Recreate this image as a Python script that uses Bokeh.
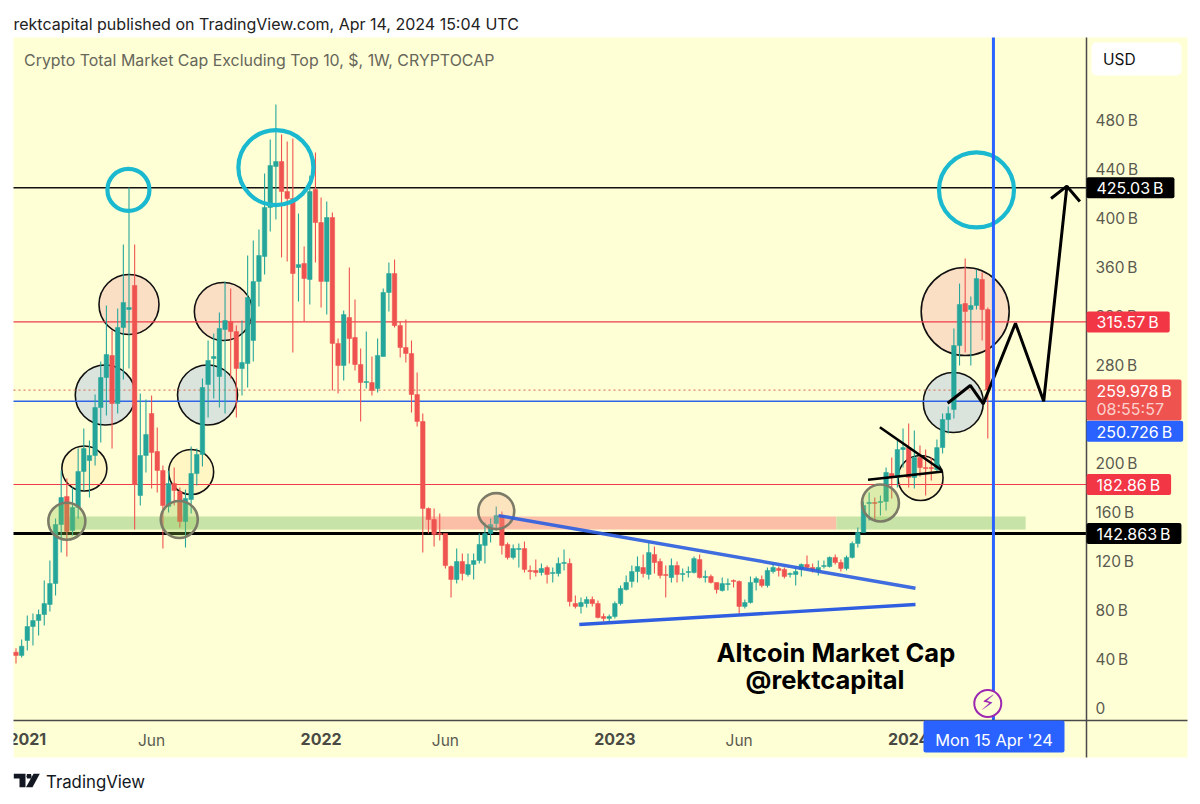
from bokeh.embed import file_html
from bokeh.resources import INLINE
from bokeh.plotting import figure
from bokeh.models import (ColumnDataSource, FixedTicker, LinearAxis, Label, BoxAnnotation,
                          PolyAnnotation, Range1d)

# ---------- weekly candles, values in billions of USD ----------
opens = [46, 43.3, 55.5, 66.9, 71.8, 76.7, 84.9, 102, 150.2, 173.1,
         145.3, 164.1, 193.5, 202.4, 206.5, 245.7, 270.2, 288.2, 249, 311,
         325.7, 345.3, 173.9, 206.5, 240.8, 209.8, 194.3, 164.9, 183.7, 177.1,
         152.7, 170.6, 191.8, 207.3, 264.5, 285.7, 271, 309.4, 315.9, 307.7,
         277.5, 281.6, 300.4, 348.6, 369, 409, 442.4, 446.5, 422, 416.3,
         360, 363.3, 350.2, 423.7, 396.7, 348.6, 400.8, 298, 280, 319.2,
         302.9, 280.8, 266.1, 266.1, 261.2, 287.3, 339.6, 355.1, 312.6, 294.7,
         289.8, 256.3, 234.3, 163.3, 154.3, 142.9, 142.9, 115.9, 105.3, 120,
         109.4, 117.6, 120.8, 133.1, 142.9, 151, 157.6, 133.9, 123.3, 129.8,
         130.6, 112.7, 112.7, 111, 115.1, 110.2, 110.2, 118.4, 118.4, 85.7,
         83.3, 85.7, 89, 85.7, 75.1, 73.5, 75.1, 85.7, 97.1, 103.7,
         111.8, 115.1, 109.4, 125.7, 120, 109.4, 106.9, 116.7, 109.4, 111,
         111, 121.6, 106.9, 107.8, 102.9, 96.3, 101.2, 104.5, 103.7, 83.3,
         86.5, 102.9, 105.3, 100.4, 111.8, 114.3, 113.5, 109.4, 109.4, 113.5,
         117.6, 115.1, 112.7, 115.9, 115.9, 123.3, 119.2, 114.3, 123.3, 134.7,
         143.7, 167.3, 168.2, 168.2, 169, 191.8, 188.6, 211.4, 213, 188.6,
         204.9, 196.7, 196.7, 195.1, 213, 235.9, 244.1, 296.3, 330.6, 325.7,
         329, 350.2, 325.7]
highs = [49.2, 56.3, 75.9, 77.5, 80.8, 104.5, 120.8, 155.1, 194.3, 187.8,
         180.4, 212.2, 228.6, 218.8, 256.3, 283.3, 329, 308.6, 326.5, 378.8,
         425.3, 378.8, 257.1, 252.2, 255.5, 229.4, 198.4, 194.3, 196.7, 180.4,
         178.8, 213.9, 212.2, 269.4, 300.4, 306.1, 323.3, 348.6, 342.9, 312.6,
         316.7, 369.8, 382, 391, 436.7, 464.5, 493, 468.6, 462.8, 465.3,
         404.1, 377.1, 435.1, 453.9, 417.1, 413.9, 404.9, 302, 324.9, 360,
         333.9, 293.9, 307.7, 287.3, 302, 342.9, 364.1, 366.5, 315.9, 317.6,
         300.4, 274.3, 240.8, 164.1, 163.3, 159.2, 142.9, 116.7, 130.6, 126.5,
         126.5, 126.5, 142.9, 151.8, 155.1, 164.9, 160.8, 135.5, 133.9, 134.7,
         136.3, 116.7, 121.6, 118.4, 116.7, 115.1, 123.3, 129.8, 122.4, 92.2,
         90.6, 91.4, 91.4, 88.2, 77.6, 76.7, 87.3, 100.4, 108.6, 116.7,
         124.1, 125.7, 135.5, 132.2, 122.4, 116.7, 122.4, 120, 114.3, 115.9,
         124.1, 125.7, 112.7, 109.4, 102.9, 106.9, 106.1, 105.3, 104.5, 89,
         107.8, 107.8, 108.6, 115.1, 118.4, 115.9, 115.1, 111, 115.9, 118.4,
         124.9, 118.4, 120.8, 120.8, 124.1, 125.7, 121.6, 124.9, 136.3, 147.8,
         169, 176.3, 172.2, 173.9, 196.7, 204.9, 218.8, 228.6, 232.7, 226.9,
         214.7, 211.4, 204.9, 219.6, 240.8, 246.5, 310.2, 346.9, 367.3, 336.3,
         358.4, 355.9, 327.3]
lows = [36.7, 41.6, 47.3, 51.4, 59.6, 67.8, 79.2, 92.2, 127.3, 124.1,
        141.2, 155.1, 178, 172.2, 198.4, 217.1, 239.2, 212.2, 240.8, 268.6,
        277.5, 146.1, 165.7, 192.7, 179.6, 176.3, 130.6, 160, 165.7, 147.8,
        131.4, 159.2, 182, 197.5, 237.5, 253, 245.7, 240.8, 269.4, 237.5,
        255.5, 262, 283.3, 328.2, 354.3, 389.4, 399.2, 368.2, 364.9, 290.6,
        332.2, 315.9, 329.8, 364.1, 327.3, 321.6, 259.6, 257.1, 267.8, 281.6,
        275.9, 234.3, 261.2, 255.5, 258, 287.3, 324.1, 311, 286.5, 282.4,
        241.6, 230.2, 127.3, 142.9, 132.2, 137.1, 114.3, 90.6, 102, 104.5,
        107.8, 105.3, 118.4, 118.4, 135.5, 145.3, 125.7, 121.6, 121.6, 115.1,
        111, 105.3, 107.8, 108.6, 102, 102.9, 107.8, 112.7, 83.3, 81.6,
        77.6, 82.4, 83.3, 73.5, 71, 70.2, 73.5, 84.1, 96.3, 98.8,
        102.9, 106.9, 105.3, 110.2, 106.1, 90.6, 102.9, 102.9, 103.7, 106.9,
        110.2, 106.1, 102.9, 102, 93.9, 95.5, 96.3, 98.8, 77.6, 81.6,
        85.7, 96.3, 98.8, 98.8, 110.2, 107.8, 106.1, 106.9, 100.4, 107.8,
        113.5, 111, 108.6, 114.3, 115.1, 117.6, 111.8, 112.7, 122.4, 131.4,
        143.7, 153.5, 152.7, 157.6, 161.6, 171.4, 180.4, 196.7, 180.4, 179.6,
        189.4, 173.9, 186.1, 192.7, 208.2, 224.5, 236.7, 280, 290.6, 280,
        325.7, 300.4, 220.4]
closes = [43.3, 50.9, 66.9, 71.8, 76.7, 85.7, 102, 150.2, 172.2, 144.5,
          164.1, 193.5, 212.2, 206.5, 245.7, 270.2, 289, 249, 311, 331.4,
          327.3, 182.9, 206.5, 223.7, 209, 194.3, 165.7, 183.7, 178, 152.7,
          171.4, 191.8, 207.3, 262, 284.1, 287.3, 310.2, 316.7, 307.7, 277.5,
          282.4, 335.5, 348.6, 369.8, 409, 443.3, 446.5, 422, 416.3, 355.1,
          362.4, 351, 422, 396.7, 348.6, 400.8, 298, 280, 321.6, 302,
          280.8, 266.1, 266.9, 259.6, 288.2, 339.6, 355.1, 312.6, 294.7, 289.8,
          256.3, 234.3, 163.3, 154.3, 142, 142, 116.7, 105.3, 120, 110.2,
          117.6, 120.8, 133.9, 142.9, 150.2, 157.6, 133.1, 123.3, 130.6, 130.6,
          113.5, 111.8, 111, 114.3, 109.4, 111, 118.4, 119.2, 87.3, 83.3,
          86.5, 89, 85.7, 74.3, 73.5, 75.1, 85.7, 98, 102.9, 111.8,
          115.9, 110.2, 127.3, 119.2, 108.6, 108.6, 116.7, 109.4, 110.2, 111.8,
          122.4, 106.9, 107.8, 102.9, 97.1, 102, 102, 103.7, 83.3, 86.5,
          102.9, 106.1, 100.4, 112.7, 115.1, 112.7, 107.8, 110.2, 111.8, 117.6,
          115.1, 112.7, 115.1, 116.7, 123.3, 119.2, 114.3, 123.3, 134.7, 143.7,
          165.7, 168.2, 167.3, 169, 192.7, 188.6, 211.4, 213, 188.6, 204.9,
          196.7, 195.9, 195.9, 213, 235.9, 240.8, 296.3, 329.8, 324.1, 329,
          351, 325.7, 259.978]

# ---------- axis texts ----------
price_ticks = [0, 40, 80, 120, 160, 200, 240, 280, 320, 360, 400, 440, 480]
year_weeks = [2, 54, 106, 158]
year_labels = ["2021", "2022", "2023", "2024"]
month_weeks = [24, 76, 128]
month_labels = ["Jun", "Jun", "Jun"]
forecast_week = 173

# ---------- horizontal levels ----------
level_425 = 425.03
level_315 = 315.57
level_260 = 259.978
level_250 = 250.726
level_182 = 182.86
level_142 = 142.863

# ---------- drawings: week position and price ----------
cyan_x = [19.9, 46, 170]; cyan_y = [423.3, 441.6, 423.3]; cyan_d = [42, 75, 75]
peach_x = [20, 36.7, 168]; peach_y = [329.8, 324.1, 324.1]; peach_d = [60, 58, 88]
grey_x = [15.8, 33.9, 165.9]; grey_y = [255.9, 255.9, 249.8]; grey_d = [60, 60, 60]
pale_x = [12.1, 31, 160.1]; pale_y = [195.9, 193.1, 188.2]; pale_d = [45, 45, 45]
ring_x = [9, 28.9, 85, 153]; ring_y = [152.9, 154.3, 161.1, 167.8]; ring_d = [37, 37, 36, 37]
ring_fill = ["#8bc34a", "#8bc34a", "#f4a58a", "#8bc34a"]

zone_left = [8.9, 72.3, 145.2]
zone_right = [72.3, 145.2, 178.7]
zone_fill = ["#c7e3a8", "#fbbfa8", "#c7e3a8"]
zone_bottom = 146.1
zone_top = 156.7

tri_up_x = [85.4, 159.2]; tri_up_y = [157.5, 98.2]
tri_lo_x = [99.7, 159.2]; tri_lo_y = [68.6, 84.9]
wedge_a_x = [152.9, 163.9]; wedge_a_y = [229.6, 194.3]
wedge_b_x = [150.8, 164.1]; wedge_b_y = [186.7, 193.5]
path_x = [164.9, 168.9, 171.2, 176.9, 181.9, 186]
path_y = [249.2, 263.7, 248.7, 314.5, 250.8, 426.4]
head_x = [183.2, 186, 188.3]
head_y = [416.3, 426.4, 413.9]

# pane limits on the chart's own scales
PANE_LEFT = -0.4425
PANE_RIGHT = 189.47
PANE_FAR_RIGHT = 207.3
PANE_BOTTOM = -9.8
PANE_TOP = 547.76
PANE_FOOT = -40.0

YELLOW = "#FFFFD6"
GREEN = "#26A69A"
RED = "#EF5350"
SANS = "Inter"

n = len(closes)
weeks = list(range(n))
colors = [GREEN if c >= o else RED for o, c in zip(opens, closes)]
src = ColumnDataSource(dict(x=weeks, o=opens, h=highs, l=lows, c=closes, col=colors))

p = figure(width=1200, height=804, output_backend="svg", toolbar_location=None,
           x_range=Range1d(-2.743, 209.65), y_range=Range1d(-78.37, 577.96),
           min_border=0, background_fill_color="white", border_fill_color="white", outline_line_color=None,
           x_axis_location=None, y_axis_location=None)
p.grid.visible = False

# chart pane background
p.add_layout(BoxAnnotation(left=13, right=1187, top=37, bottom=757, left_units="canvas", right_units="canvas",
                           top_units="canvas", bottom_units="canvas", fill_color=YELLOW, fill_alpha=1,
                           line_color=None, level="underlay"))

# axes
yax = LinearAxis(ticker=FixedTicker(ticks=price_ticks), fixed_location=PANE_RIGHT,
                 bounds=(PANE_FOOT, PANE_TOP),
                 major_label_overrides={t: (f"{t}\u2009B" if t else "0") for t in price_ticks},
                 major_tick_line_color=None, minor_tick_line_color=None,
                 major_tick_out=0, major_label_standoff=9,
                 axis_line_color="#4a4a4a", axis_line_width=1.5,
                 major_label_text_font=SANS, major_label_text_font_size="15.5px",
                 major_label_text_color="#5a5a50")
p.add_layout(yax, "right")
xax = LinearAxis(ticker=FixedTicker(ticks=year_weeks), fixed_location=PANE_BOTTOM,
                 bounds=(PANE_LEFT, PANE_FAR_RIGHT),
                 major_label_overrides=dict(zip(year_weeks, year_labels)),
                 major_tick_line_color=None, minor_tick_line_color=None,
                 major_tick_out=0, major_label_standoff=12,
                 axis_line_color="#4a4a4a", axis_line_width=1.5,
                 major_label_text_font=SANS, major_label_text_font_size="16px",
                 major_label_text_font_style="bold", major_label_text_color="#4a4a44")
p.add_layout(xax, "below")

# filled circles and zones beneath the candles
p.scatter(peach_x, peach_y, size=peach_d, marker="circle", fill_color="#fbdfc4", line_color="#111111", line_width=1.6)
p.scatter(grey_x, grey_y, size=grey_d, marker="circle", fill_color="#dae3dc", line_color="#111111", line_width=1.6)
p.scatter(pale_x, pale_y, size=pale_d, marker="circle", fill_color="#fff6c4", line_color="#111111", line_width=1.6)
p.quad(left=zone_left, right=zone_right, bottom=zone_bottom, top=zone_top, fill_color=zone_fill, line_color=None)


def level(y, color, width, dash="solid"):
    p.segment(x0=[PANE_LEFT], y0=[y], x1=[PANE_RIGHT], y1=[y], line_color=color, line_width=width, line_dash=dash)


level(level_425, "#111111", 1.5)
level(level_142, "#000000", 3)
level(level_315, "#EF3B4A", 1.2)
level(level_182, "#EF3B4A", 1.2)
level(level_250, "#2F64E6", 1.5)
level(level_260, "#D9826A", 1.2, "2 3")

# candles
p.segment("x", "h", "x", "l", source=src, line_color="col", line_width=1.1)
p.vbar("x", top="o", bottom="c", width=0.8, source=src, fill_color="col", line_color="col", line_width=0.5)

# rings over the candles
p.scatter(ring_x, ring_y, size=ring_d, marker="circle", fill_color=ring_fill, fill_alpha=0.3,
          line_color="#7b7b68", line_width=2.6)
p.scatter(cyan_x, cyan_y, size=cyan_d, marker="circle", fill_color=None, line_color="#1AB9CF", line_width=4.2)

# trend lines
p.line(tri_up_x, tri_up_y, line_color="#2F5FE0", line_width=3.4, line_alpha=0.92)
p.line(tri_lo_x, tri_lo_y, line_color="#2F5FE0", line_width=3.4)
p.line(wedge_a_x, wedge_a_y, line_color="#000000", line_width=2.6)
p.line(wedge_b_x, wedge_b_y, line_color="#000000", line_width=2.6)
p.line(path_x, path_y, line_color="#000000", line_width=3)
p.line(head_x, head_y, line_color="#000000", line_width=3)

# forecast line and its icon
p.segment(x0=[forecast_week], y0=[PANE_BOTTOM], x1=[forecast_week], y1=[PANE_TOP], line_color="#2962FF", line_width=3)
p.scatter([172], [4.1], size=27, marker="circle", fill_color=YELLOW, line_color="#9C27B0", line_width=2)
p.add_layout(Label(x=172, y=4.1, text="\u26A1", text_font="DejaVu Sans", text_font_size="21px", text_color="#9C27B0",
                   text_align="center", text_baseline="middle"))


def canvas_label(x, y, text, size, color, style="normal", font=SANS, align="left"):
    p.add_layout(Label(x=x, y=y, x_units="canvas", y_units="canvas", text=text,
                       text_font=font, text_font_size=f"{size}px", text_color=color,
                       text_font_style=style, text_align=align, text_baseline="middle"))


def canvas_box(l, r, t, b, color, radius=0):
    p.add_layout(BoxAnnotation(left=l, right=r, top=t, bottom=b, left_units="canvas",
                               right_units="canvas", top_units="canvas", bottom_units="canvas",
                               fill_color=color, fill_alpha=1, line_color=None, border_radius=radius))


# clipped first year label
canvas_box(0, 13, 725, 755, "#ffffff")

# month labels
for wk, txt in zip(month_weeks, month_labels):
    p.add_layout(Label(x=wk, y=740, y_units="canvas", text=txt, text_font=SANS, text_font_size="15.5px",
                       text_color="#5a5a50", text_align="center", text_baseline="middle"))


# price tags
def tag(value, text, color, pad_right, text_color="#ffffff", offset=0):
    p.add_layout(Label(x=1086, y=value, x_units="canvas", y_offset=offset, text=text,
                       text_font=SANS, text_font_size="16px", text_color=text_color,
                       text_align="left", text_baseline="middle",
                       background_fill_color=color, border_radius=2,
                       padding=(10, pad_right, 1, 0)))


tag(level_425, "425.03\u2009B", "#000000", 11)
tag(level_315, "315.57\u2009B", "#F23645", 11)
tag(level_182, "182.86\u2009B", "#F23645", 11)
tag(level_142, "142.863\u2009B", "#000000", 11)
canvas_box(1086, 1181, 379, 420, RED, 2)
canvas_label(1096, 390, "259.978\u2009B", 16, "#ffffff")
canvas_label(1096, 408, "08:55:57", 16, "#fbd0cb")
tag(level_250, "250.726\u2009B", "#2962FF", 11, offset=-30)

# date tag
canvas_box(923, 1064, 720, 752, "#2962FF", 2)
canvas_label(993.5, 739, "Mon 15 Apr '24", 16.4, "#ffffff", align="center")

# currency box
canvas_box(1091, 1181, 42, 75, "#ffffff", 5)
canvas_label(1102.5, 58.5, "USD", 15.5, "#111111")

# headings
canvas_label(13, 23.5, "rektcapital published on TradingView.com, Apr 14, 2024 15:04 UTC", 16, "#222222")
canvas_label(23.5, 60, "Crypto Total Market Cap Excluding Top 10, $, 1W, CRYPTOCAP", 15.95, "#66665a")
canvas_label(716, 652, "Altcoin Market Cap", 25.5, "#000000", "bold")
canvas_label(745, 679, "@rektcapital", 25.5, "#000000", "bold")

# footer wordmark
canvas_label(45.5, 781, "TradingView", 16.8, "#131722")
logo = [[(13.3, 773.3), (25, 773.3), (25, 786.7), (19, 786.7), (19, 778), (13.3, 778)],
        [(33, 773.3), (39.3, 773.3), (32, 786.7), (25.5, 786.7)],
        [(26.5, 773.5), (30.5, 773.5), (31, 775.7), (30.5, 778), (26.5, 778), (26, 775.7)]]
for poly in logo:
    p.add_layout(PolyAnnotation(xs=[a for a, _ in poly], ys=[b for _, b in poly],
                                xs_units="canvas", ys_units="canvas",
                                fill_color="#131722", fill_alpha=1, line_color=None))

open("out.html", "w").write(file_html(p, INLINE))
